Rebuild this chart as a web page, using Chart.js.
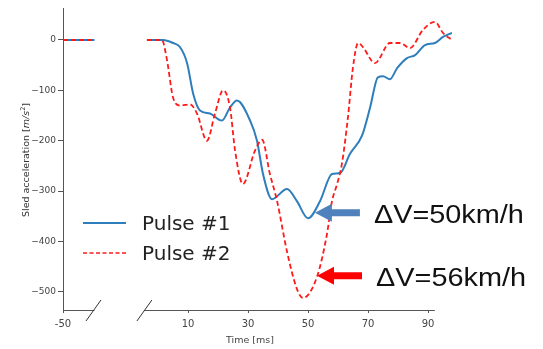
<!DOCTYPE html>
<html>
<head>
<meta charset="utf-8">
<script src="https://cdn.jsdelivr.net/npm/chart.js@4.4.1/dist/chart.umd.min.js"></script>
<style>
  html, body { margin: 0; padding: 0; background: #fff; }
  #wrap { width: 543px; height: 349px; position: relative; }
</style>
</head>
<body>
<div id="wrap"><canvas id="sled" width="543" height="349"></canvas></div>
<script>
// time [ms] and sled acceleration [m/s2]
const pulse1Time  = [-3.7, 1.7, 5, 7.3, 9.7, 11.7, 14, 17.3, 21.3, 24, 26.3, 30.7, 33, 35, 38, 43, 46.3, 50, 54, 58, 60.7, 64, 68, 70.7, 73.3, 75, 77.3, 79.7, 83, 85.7, 89, 92.3, 95, 98];
const pulse1Accel = [0, 0, -6, -14, -46, -106, -140, -146, -160, -134, -120, -160, -200, -266, -316, -296, -320, -354, -320, -266, -264, -226, -190, -134, -74, -72, -78, -56, -36, -30, -10, -6, 6, 14];

const pulse2Time  = [-3.7, 1.3, 3, 5, 7.3, 10.7, 13, 16.3, 19, 21.7, 24, 25.7, 28.3, 32.3, 34.7, 37.3, 39.7, 43, 46.3, 48.3, 53, 56.3, 58, 59.7, 61.3, 63.3, 65, 66.7, 68.3, 72.3, 77.3, 80.7, 84, 88.3, 92.3, 95, 98];
const pulse2Accel = [0, 0, -40, -114, -130, -128, -146, -200, -146, -100, -134, -220, -286, -220, -198, -266, -320, -420, -494, -512, -470, -386, -320, -286, -246, -154, -54, -6, -14, -46, -6, -6, -16, 20, 36, 14, 0];

// pre-trigger part shown left of the axis break
const preTime  = [-50, -39.5];
const preAccel = [0, 0];

const xTickLabels = [-50, 10, 30, 50, 70, 90];
const yTickValues = [0, -100, -200, -300, -400, -500];

const seriesNames = ['Pulse #1', 'Pulse #2'];
const deltaV = ['\u0394V=50km/h', '\u0394V=56km/h'];
const deltaVTime  = [52.3, 53];
const deltaVAccel = [-343, -468];

// broken axis: everything before -20 ms is moved right
const BREAK_AT = -20;
const LEFT_SHIFT = 18.33;
const toDisp = t => (t < BREAK_AT ? t + LEFT_SHIFT : t);

const BLUE = '#2e7ebc';
const RED = '#ff1a1a';
const FONT = '"DejaVu Sans", sans-serif';

function series(times, accel) {
  const pts = preTime.map((t, i) => ({ x: toDisp(t), y: preAccel[i] }));
  pts.push({ x: -12, y: null });
  times.forEach((t, i) => pts.push({ x: toDisp(t), y: accel[i] }));
  return pts;
}

const decorations = {
  id: 'decorations',
  afterDraw(chart) {
    const ctx = chart.ctx;
    const xs = chart.scales.x, ys = chart.scales.y;
    const area = chart.chartArea;
    const ax = v => xs.getPixelForValue(toDisp(v));

    ctx.save();
    ctx.strokeStyle = '#555';
    ctx.lineWidth = 1;
    // y axis line
    ctx.beginPath();
    ctx.moveTo(area.left + 0.5, area.top);
    ctx.lineTo(area.left + 0.5, area.bottom + 0.5);
    ctx.stroke();
    // x axis, two pieces
    const yb = area.bottom + 0.5;
    const l1 = ax(-50), l2 = ax(-39.5), r1 = ax(-4.7), r2 = ax(92.3);
    ctx.beginPath();
    ctx.moveTo(l1, yb); ctx.lineTo(l2, yb);
    ctx.moveTo(r1, yb); ctx.lineTo(r2, yb);
    ctx.stroke();
    // break marks
    ctx.strokeStyle = '#333';
    [l2 - 1, r1 + 0.5].forEach(cx => {
      ctx.beginPath();
      ctx.moveTo(cx - 7.5, yb + 10.5);
      ctx.lineTo(cx + 7.5, yb - 10.5);
      ctx.stroke();
    });

    // x title
    ctx.fillStyle = '#444';
    ctx.font = '9.5px ' + FONT;
    ctx.textAlign = 'center';
    ctx.textBaseline = 'middle';
    ctx.fillText('Time [ms]', 250, 341);

    // y title with italic unit
    ctx.translate(27, 160);
    ctx.rotate(-Math.PI / 2);
    const parts = [
      ['Sled acceleration [', '9.5px ' + FONT, 0],
      ['m/s', 'italic 9.5px ' + FONT, 0],
      ['2', '6.5px ' + FONT, -3.5],
      [']', '9.5px ' + FONT, 0]
    ];
    let w = 0;
    parts.forEach(p => { ctx.font = p[1]; w += ctx.measureText(p[0]).width; });
    let px = -w / 2;
    ctx.textAlign = 'left';
    ctx.fillStyle = '#333';
    parts.forEach(p => {
      ctx.font = p[1];
      ctx.fillText(p[0], px, p[2]);
      px += ctx.measureText(p[0]).width;
    });
    ctx.restore();

    // legend inside the plot
    ctx.save();
    const legY = [223, 253];
    const legCol = [BLUE, RED];
    legY.forEach((y, i) => {
      ctx.strokeStyle = legCol[i];
      ctx.lineWidth = i === 0 ? 2 : 1.5;
      ctx.setLineDash(i === 0 ? [] : [4, 2.5]);
      ctx.beginPath();
      ctx.moveTo(83, y);
      ctx.lineTo(126, y);
      ctx.stroke();
      ctx.setLineDash([]);
      ctx.fillStyle = '#222';
      ctx.font = '20px ' + FONT;
      ctx.textAlign = 'left';
      ctx.textBaseline = 'alphabetic';
      ctx.fillText(seriesNames[i], 142, y + 7);
    });
    ctx.restore();

    // delta-V arrows and labels
    const arrowCol = ['#4f81bd', '#ff0000'];
    deltaV.forEach((txt, i) => {
      const tx = xs.getPixelForValue(deltaVTime[i]);
      const ty = ys.getPixelForValue(deltaVAccel[i]);
      ctx.save();
      ctx.fillStyle = arrowCol[i];
      ctx.beginPath();
      ctx.moveTo(tx, ty);
      ctx.lineTo(tx + 17, ty - 9);
      ctx.lineTo(tx + 17, ty - 3.5);
      ctx.lineTo(tx + 45, ty - 3.5);
      ctx.lineTo(tx + 45, ty + 3.5);
      ctx.lineTo(tx + 17, ty + 3.5);
      ctx.lineTo(tx + 17, ty + 9);
      ctx.closePath();
      ctx.fill();

      ctx.fillStyle = '#111';
      ctx.font = '25px "Liberation Sans", Arial, sans-serif';
      ctx.textBaseline = 'alphabetic';
      const mw = ctx.measureText(txt).width;
      ctx.translate(tx + 59, ty + 10);
      ctx.scale(150 / mw, 1);
      ctx.fillText(txt, 0, 0);
      ctx.restore();
    });
  }
};

new Chart(document.getElementById('sled'), {
  type: 'line',
  data: {
    datasets: [
      {
        label: seriesNames[0],
        data: series(pulse1Time, pulse1Accel),
        borderColor: BLUE,
        borderWidth: 2,
        order: 2
      },
      {
        label: seriesNames[1],
        data: series(pulse2Time, pulse2Accel),
        borderColor: RED,
        borderWidth: 1.8,
        borderDash: [5, 3],
        order: 1
      }
    ]
  },
  options: {
    responsive: false,
    animation: false,
    events: [],
    layout: { padding: { top: 8, right: 91, left: 0, bottom: 0 } },
    elements: {
      point: { radius: 0 },
      line: { cubicInterpolationMode: 'monotone', fill: false }
    },
    spanGaps: false,
    plugins: { legend: { display: false }, tooltip: { enabled: false } },
    scales: {
      x: {
        type: 'linear',
        min: toDisp(-50),
        max: 98,
        border: { display: false },
        grid: { drawOnChartArea: false, drawTicks: true, tickLength: 3, color: '#555' },
        afterBuildTicks: s => { s.ticks = xTickLabels.map(t => ({ value: toDisp(t) })); },
        afterFit: s => { s.height = 39; },
        ticks: {
          autoSkip: false,
          maxRotation: 0,
          padding: 5,
          color: '#444',
          font: { family: FONT, size: 10 },
          callback: (v, i) => String(xTickLabels[i])
        }
      },
      y: {
        min: -536,
        max: 63.5,
        border: { display: false },
        grid: { drawOnChartArea: false, drawTicks: true, tickLength: 5, color: '#555' },
        afterBuildTicks: s => { s.ticks = yTickValues.map(v => ({ value: v })); },
        afterFit: s => { s.width = 63; },
        ticks: {
          padding: 2,
          color: '#444',
          font: { family: FONT, size: 9 },
          callback: v => (v < 0 ? '\u2212' + Math.abs(v) : String(v))
        }
      }
    }
  },
  plugins: [decorations]
});
</script>
</body>
</html>
